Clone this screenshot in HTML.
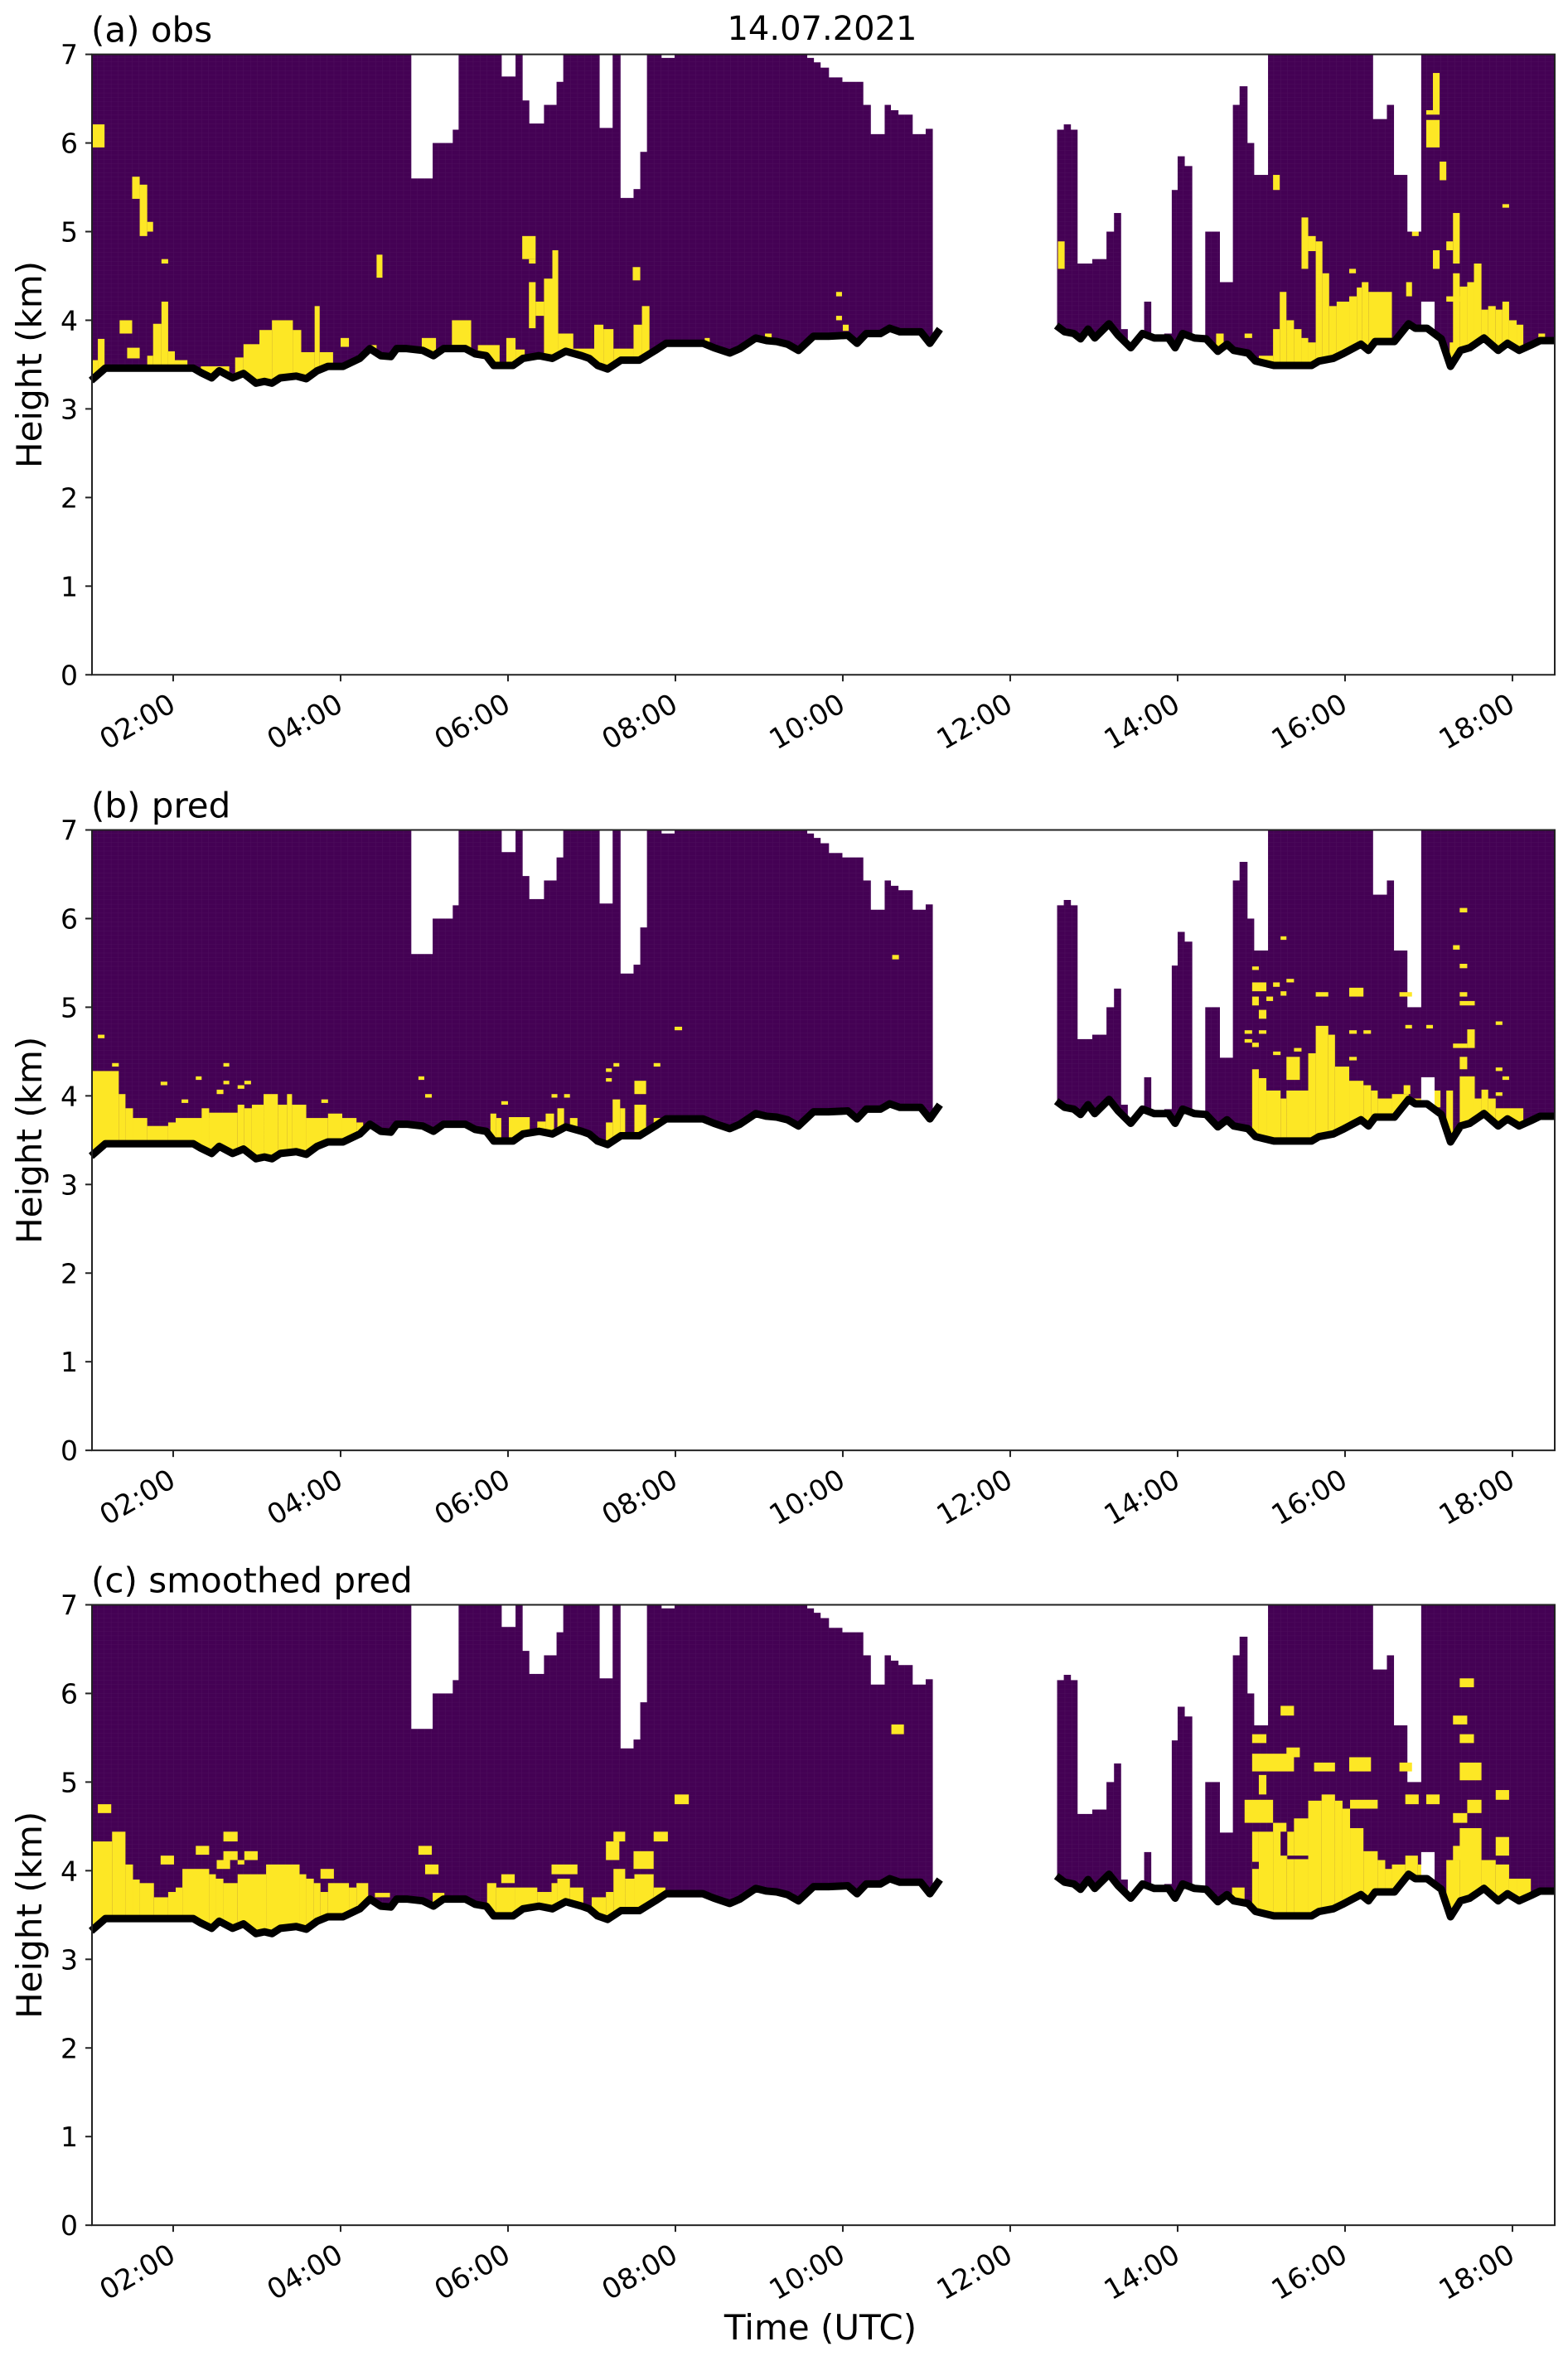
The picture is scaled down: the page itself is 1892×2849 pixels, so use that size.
<!DOCTYPE html>
<html><head><meta charset="utf-8"><style>
html,body{margin:0;padding:0;background:#fff;}
svg{display:block;}
text{font-family:"DejaVu Sans","Liberation Sans",sans-serif;fill:#000;}
</style></head><body>
<svg id="fig" width="1892" height="2849" viewBox="0 0 1892 2849" xmlns="http://www.w3.org/2000/svg">
<defs>
<pattern id="cellgrid" patternUnits="userSpaceOnUse" width="8.4" height="5.35">
<path d="M8.4 0V5.35M0 5.35H8.4" stroke="rgba(255,255,255,0.05)" stroke-width="1" fill="none"/>
</pattern>
</defs>
<text x="992" y="48" font-size="40" text-anchor="middle">14.07.2021</text>
<text x="990" y="2823" font-size="42" text-anchor="middle">Time (UTC)</text>
</svg>
<script>
// ---- data (hours UTC, km) ----
const panelTitles = ["(a) obs", "(b) pred", "(c) smoothed pred"];
const yTicks = [0,1,2,3,4,5,6,7];
const xTickHours = [2,4,6,8,10,12,14,16,18];
const xTickLabels = ["02:00","04:00","06:00","08:00","10:00","12:00","14:00","16:00","18:00"];
// cloud top segments [t0, t1, topKm]
const cloudTop = [[1.02,4.84,7],[4.84,5.10,5.60],[5.10,5.34,6.0],[5.34,5.41,6.15],[5.41,5.92,7],[5.92,6.09,6.75],[6.09,6.17,7],[6.17,6.25,6.48],[6.25,6.43,6.22],[6.43,6.58,6.43],[6.58,6.66,6.69],[6.66,7.09,7],[7.09,7.25,6.17],[7.25,7.34,7],[7.34,7.5,5.38],[7.5,7.58,5.48],[7.58,7.66,5.9],[7.66,7.83,7],[7.83,7.99,6.96],[7.99,9.57,7],[9.57,9.65,6.96],[9.65,9.73,6.91],[9.73,9.83,6.85],[9.83,9.99,6.74],[9.99,10.24,6.69],[10.24,10.33,6.43],[10.33,10.5,6.1],[10.5,10.57,6.43],[10.57,10.66,6.37],[10.66,10.83,6.32],[10.83,10.99,6.1],[10.99,11.07,6.16],
[12.56,12.64,6.15],[12.64,12.72,6.21],[12.72,12.8,6.15],[12.8,12.98,4.64],[12.98,13.15,4.69],[13.15,13.24,5.0],[13.24,13.32,5.21],[13.32,13.4,3.9],[13.6,13.68,4.21],[13.84,13.93,3.85],[13.93,14.0,5.47],[14.0,14.08,5.85],[14.08,14.17,5.74],[14.33,14.5,5.0],[14.5,14.66,4.43],[14.66,14.74,6.43],[14.74,14.83,6.64],[14.83,14.91,6.0],[14.91,15.08,5.64],[15.08,16.33,7],[16.33,16.5,6.27],[16.5,16.58,6.43],[16.58,16.74,5.64],[16.74,16.91,5.0],[16.91,18.55,7]];
// cloud base line, two segments [hour, km]
const baseSeg1 = [[1.02,3.32],[1.19,3.46],[2.24,3.46],[2.33,3.41],[2.46,3.35],[2.55,3.43],[2.71,3.35],[2.84,3.40],[2.99,3.29],[3.09,3.31],[3.18,3.29],[3.28,3.35],[3.47,3.37],[3.59,3.34],[3.72,3.43],[3.85,3.48],[4.03,3.48],[4.23,3.57],[4.35,3.68],[4.48,3.60],[4.60,3.59],[4.67,3.68],[4.79,3.68],[4.98,3.66],[5.11,3.60],[5.23,3.68],[5.49,3.68],[5.61,3.62],[5.74,3.60],[5.83,3.49],[6.06,3.49],[6.18,3.57],[6.37,3.60],[6.53,3.57],[6.69,3.65],[6.88,3.60],[6.97,3.57],[7.07,3.49],[7.19,3.45],[7.35,3.55],[7.57,3.55],[7.76,3.66],[7.89,3.74],[8.33,3.74],[8.46,3.69],[8.65,3.63],[8.77,3.68],[8.96,3.80],[9.09,3.77],[9.21,3.76],[9.34,3.73],[9.47,3.66],[9.65,3.82],[9.83,3.82],[10.06,3.83],[10.17,3.74],[10.28,3.85],[10.45,3.85],[10.56,3.91],[10.68,3.87],[10.93,3.87],[11.04,3.74],[11.16,3.90]];
const baseSeg2 = [[12.55,3.94],[12.65,3.87],[12.76,3.85],[12.84,3.79],[12.93,3.90],[13.01,3.80],[13.18,3.96],[13.29,3.83],[13.44,3.69],[13.58,3.85],[13.72,3.80],[13.89,3.80],[13.97,3.69],[14.06,3.85],[14.20,3.80],[14.34,3.79],[14.48,3.65],[14.59,3.73],[14.67,3.66],[14.84,3.63],[14.93,3.54],[15.15,3.49],[15.60,3.49],[15.69,3.54],[15.86,3.57],[15.97,3.62],[16.11,3.69],[16.19,3.73],[16.28,3.66],[16.36,3.76],[16.59,3.76],[16.76,3.96],[16.84,3.91],[16.98,3.91],[17.15,3.79],[17.26,3.48],[17.38,3.66],[17.49,3.69],[17.66,3.80],[17.83,3.66],[17.94,3.74],[18.08,3.66],[18.22,3.72],[18.33,3.77],[18.51,3.77]];
// data gaps inside cloud [t0,t1,lo,hi]
const cloudHoles = [[16.91,17.07,3.0,4.21]];
// yellow class rectangles [t0,t1,lo,hi]
const yellowObs = [[1.02,1.18,5.95,6.21],[1.10,1.18,3.0,3.79],[1.02,1.10,3.0,3.55],[1.51,1.60,5.37,5.62],[1.60,1.69,4.95,5.53],[1.69,1.76,5.0,5.11],[1.86,1.94,4.64,4.69],[1.36,1.51,3.85,4.0],[1.45,1.60,3.57,3.69],[1.69,1.76,3.0,3.6],[1.76,1.86,3.0,3.96],[1.86,1.94,3.0,4.21],[1.94,2.02,3.0,3.65],[2.02,2.17,3.0,3.55],[2.33,2.67,3.0,3.48],[2.74,2.84,3.0,3.58],[2.84,3.03,3.0,3.73],[3.03,3.18,3.0,3.89],[3.18,3.43,3.0,4.0],[3.43,3.53,3.0,3.89],[3.53,3.69,3.0,3.64],[3.69,3.75,3.0,4.16],[3.75,3.91,3.0,3.64],[4.0,4.1,3.7,3.8],[4.35,4.43,3.0,3.72],[4.43,4.50,4.48,4.74],[4.97,5.14,3.0,3.8],[5.33,5.56,3.0,4.0],[5.64,5.9,3.0,3.72],[5.98,6.09,3.0,3.8],[6.09,6.2,3.55,3.67],[6.17,6.33,4.69,4.95],[6.25,6.33,4.64,4.69],[6.25,6.33,3.91,4.43],[6.33,6.43,4.05,4.21],[6.43,6.53,3.0,4.47],[6.53,6.6,3.0,4.79],[6.6,6.78,3.0,3.85],[6.78,7.03,3.0,3.68],[7.03,7.14,3.0,3.95],[7.14,7.26,3.0,3.9],[7.26,7.5,3.0,3.68],[7.49,7.58,4.45,4.6],[7.5,7.6,3.0,3.95],[7.6,7.69,3.0,4.16],[8.35,8.41,3.7,3.8],[9.07,9.15,3.75,3.85],[9.92,9.99,4.27,4.32],[9.92,9.99,4.0,4.05],[10.0,10.07,3.88,3.95],[12.57,12.65,4.58,4.89],[14.46,14.55,3.0,3.85],[14.8,14.89,3.8,3.85],[14.97,15.14,3.0,3.6],[15.14,15.22,5.47,5.64],[15.14,15.22,3.0,3.9],[15.22,15.3,3.0,4.32],[15.3,15.39,3.0,4.0],[15.39,15.48,3.0,3.9],[15.48,15.56,3.0,3.8],[15.48,15.56,4.58,5.16],[15.56,15.65,4.78,4.95],[15.56,15.65,3.0,3.75],[15.65,15.73,3.0,4.89],[15.73,15.81,3.0,4.53],[15.81,15.9,3.0,4.16],[15.9,16.05,3.0,4.21],[16.05,16.13,4.53,4.58],[16.05,16.14,3.0,4.27],[16.14,16.2,3.0,4.37],[16.2,16.28,3.0,4.43],[16.28,16.56,3.0,4.32],[16.73,16.8,4.27,4.43],[16.8,16.88,4.95,5.0],[16.97,17.05,6.32,6.37],[17.05,17.13,6.32,6.79],[16.97,17.13,5.95,6.26],[17.13,17.21,5.58,5.79],[17.25,17.37,3.0,3.75],[17.05,17.13,4.58,4.79],[17.21,17.29,4.79,4.89],[17.29,17.37,4.64,5.21],[17.29,17.37,3.74,4.53],[17.21,17.37,4.21,4.27],[17.37,17.46,3.0,4.38],[17.46,17.54,3.0,4.43],[17.54,17.63,3.0,4.64],[17.63,17.71,3.0,4.12],[17.71,17.8,3.0,4.16],[17.8,17.88,3.0,4.12],[17.88,17.96,3.0,4.21],[17.88,17.96,5.27,5.31],[17.96,18.05,3.0,4.0],[18.05,18.13,3.0,3.95],[18.31,18.39,3.8,3.85]];
const yellowPred = [[1.02,1.35,3.0,4.28],[1.35,1.43,3.0,4.02],[1.43,1.52,3.0,3.86],[1.52,1.69,3.0,3.75],[1.69,1.94,3.0,3.66],[1.94,2.03,3.0,3.7],[2.03,2.43,3.0,3.75],[2.34,2.43,3.0,3.86],[2.43,2.77,3.0,3.81],[2.77,2.85,3.0,3.9],[2.85,2.94,3.0,3.86],[2.94,3.08,3.0,3.9],[3.08,3.25,3.0,4.02],[3.25,3.36,3.0,3.9],[3.36,3.42,3.0,4.02],[3.42,3.59,3.0,3.9],[3.59,3.85,3.0,3.75],[3.85,4.02,3.0,3.8],[4.02,4.19,3.0,3.75],[4.19,4.27,3.0,3.7],[1.1,1.18,4.65,4.69],[1.27,1.35,4.33,4.37],[2.6,2.67,4.33,4.37],[2.27,2.34,4.18,4.22],[2.6,2.67,4.13,4.17],[2.77,2.85,4.08,4.12],[2.85,2.93,4.13,4.17],[1.85,1.93,4.12,4.16],[2.52,2.6,4.02,4.07],[2.1,2.18,3.92,3.96],[3.77,3.85,3.92,3.96],[4.93,5.0,4.18,4.22],[5.01,5.09,3.98,4.02],[7.99,8.08,4.74,4.78],[5.79,5.86,3.0,3.8],[5.86,5.92,3.0,3.75],[5.92,6.0,3.9,3.94],[6.01,6.26,3.0,3.76],[6.35,6.45,3.0,3.71],[6.45,6.55,3.0,3.8],[6.52,6.59,3.98,4.02],[6.67,6.74,3.98,4.02],[6.59,6.67,3.0,3.86],[6.74,6.83,3.0,3.75],[7.17,7.25,3.0,3.7],[7.25,7.34,3.0,3.96],[7.34,7.4,3.0,3.86],[7.51,7.65,4.02,4.17],[7.51,7.65,3.0,3.9],[7.17,7.24,4.27,4.31],[7.17,7.24,4.16,4.2],[7.26,7.33,4.33,4.37],[7.74,7.82,4.33,4.37],[7.74,7.82,3.0,3.75],[10.59,10.67,5.54,5.59],[14.89,14.97,3.0,4.3],[14.97,15.06,3.0,4.2],[15.06,15.23,3.0,4.06],[15.23,15.3,3.0,3.97],[15.3,15.56,3.0,4.06],[15.3,15.46,4.18,4.44],[15.56,15.65,3.0,4.48],[15.65,15.8,3.0,4.79],[15.8,15.88,3.0,4.69],[15.88,16.05,3.0,4.33],[16.05,16.22,3.0,4.17],[16.22,16.31,3.0,4.12],[16.31,16.39,3.0,4.06],[16.39,16.56,3.0,3.97],[16.56,16.76,3.0,4.02],[16.7,16.78,4.02,4.12],[16.76,16.97,3.0,3.97],[17.04,17.14,3.87,4.06],[17.21,17.29,3.0,4.06],[17.37,17.55,3.0,4.22],[17.46,17.55,4.54,4.75],[17.29,17.46,4.54,4.59],[17.54,17.63,3.0,3.97],[17.63,17.71,3.0,4.07],[17.71,17.8,3.0,3.97],[17.8,18.13,3.0,3.86],[15.23,15.3,5.76,5.8],[14.89,14.97,5.42,5.46],[14.89,15.06,5.18,5.28],[15.14,15.22,5.23,5.28],[15.3,15.39,5.28,5.32],[15.23,15.3,5.13,5.18],[15.06,15.14,5.07,5.12],[14.89,14.97,5.02,5.12],[14.97,15.06,4.87,4.97],[14.8,14.89,4.7,4.74],[14.97,15.06,4.7,4.74],[14.8,14.89,4.6,4.64],[14.89,14.97,4.55,4.6],[15.65,15.8,5.12,5.17],[16.05,16.22,5.12,5.22],[16.65,16.8,5.12,5.17],[17.37,17.46,6.07,6.12],[17.29,17.37,5.65,5.7],[17.37,17.46,5.44,5.49],[17.37,17.46,5.12,5.17],[17.37,17.55,5.02,5.07],[17.8,17.88,4.8,4.84],[16.72,16.8,4.76,4.8],[16.97,17.05,4.76,4.8],[16.05,16.14,4.7,4.74],[16.22,16.31,4.7,4.74],[15.39,15.48,4.5,4.54],[15.14,15.23,4.46,4.5],[16.05,16.14,4.4,4.44],[17.8,17.88,4.28,4.32],[17.88,17.96,4.18,4.22],[17.8,17.88,4.0,4.04],[17.37,17.46,4.3,4.44]];
const yellowSmooth = [[1.02,1.27,3.0,4.33],[1.27,1.43,3.0,4.44],[1.43,1.52,3.0,4.07],[1.52,1.6,3.0,3.9],[1.6,1.77,3.0,3.86],[1.77,1.94,3.0,3.7],[1.94,2.03,3.0,3.76],[2.03,2.11,3.0,3.81],[2.11,2.43,3.0,4.02],[2.43,2.51,3.0,3.96],[2.51,2.6,3.0,3.91],[2.6,2.77,3.0,3.86],[2.77,3.11,3.0,3.96],[3.11,3.51,3.0,4.07],[3.51,3.59,3.0,3.96],[3.59,3.68,3.0,3.91],[3.68,3.76,3.0,3.86],[3.76,3.85,3.0,3.76],[3.76,3.92,3.91,4.02],[3.85,4.1,3.0,3.86],[4.1,4.19,3.0,3.81],[4.19,4.33,3.0,3.86],[1.1,1.26,4.65,4.75],[1.85,2.01,4.07,4.17],[2.27,2.43,4.18,4.28],[2.6,2.77,4.33,4.44],[2.6,2.77,4.12,4.22],[2.85,3.01,4.12,4.22],[2.52,2.68,4.02,4.12],[2.77,2.85,4.07,4.12],[4.41,4.59,3.7,3.75],[5.1,5.24,3.0,3.75],[4.93,5.09,4.18,4.28],[5.01,5.17,3.96,4.07],[7.99,8.16,4.75,4.86],[5.75,5.86,3.0,3.86],[5.86,6.08,3.0,3.81],[5.92,6.08,3.86,3.96],[6.08,6.35,3.0,3.81],[6.35,6.52,3.0,3.76],[6.52,6.59,3.0,3.86],[6.59,6.74,3.0,3.91],[6.74,6.9,3.0,3.81],[6.52,6.83,3.96,4.07],[7.0,7.17,3.0,3.7],[7.17,7.26,3.0,3.76],[7.26,7.4,3.0,4.02],[7.4,7.51,3.0,3.91],[7.51,7.74,3.0,3.96],[7.74,7.88,3.0,3.81],[7.17,7.33,4.12,4.33],[7.26,7.4,4.33,4.44],[7.5,7.74,4.02,4.22],[7.74,7.91,4.33,4.44],[10.58,10.73,5.54,5.65],[14.65,14.8,3.0,3.81],[14.89,14.97,3.0,4.44],[14.97,15.14,3.0,4.44],[15.14,15.3,3.0,4.54],[15.3,15.39,3.0,4.44],[15.39,15.56,3.0,4.59],[15.56,15.72,3.0,4.79],[15.72,15.88,3.0,4.86],[15.88,15.97,3.0,4.79],[15.97,16.06,3.0,4.7],[16.06,16.22,3.0,4.48],[16.06,16.39,4.7,4.8],[16.22,16.39,3.0,4.22],[16.39,16.48,3.0,4.12],[16.48,16.56,3.0,4.02],[16.56,16.72,3.0,4.07],[16.72,16.87,3.0,4.17],[16.87,16.97,3.0,4.07],[17.21,17.37,3.0,4.12],[17.29,17.46,4.12,4.28],[17.37,17.63,3.0,4.48],[17.63,17.8,3.0,4.12],[17.8,17.96,3.0,4.07],[17.96,18.05,3.0,3.91],[18.05,18.22,3.0,3.91],[17.8,17.96,4.17,4.38],[17.29,17.46,4.54,4.65],[17.46,17.63,4.65,4.8],[15.23,15.39,5.75,5.86],[14.89,15.06,5.44,5.54],[15.3,15.46,5.28,5.39],[14.89,15.39,5.12,5.32],[14.97,15.06,4.86,5.08],[14.8,15.14,4.54,4.8],[15.63,15.88,5.12,5.22],[16.05,16.31,5.12,5.28],[16.65,16.8,5.12,5.22],[16.72,16.88,4.75,4.86],[16.97,17.13,4.75,4.86],[17.37,17.54,6.07,6.17],[17.29,17.46,5.65,5.75],[17.37,17.54,5.44,5.54],[17.37,17.63,5.02,5.22],[17.8,17.96,4.8,4.91]];
// purple gaps inside yellow blobs, smoothed panel [t0,t1,lo,hi]
const purpleHolesSmooth = [[15.23,15.31,4.17,4.44],[15.31,15.56,4.13,4.17],[14.89,14.97,4.02,4.1]];
const panelYellow = [yellowObs, yellowPred, yellowSmooth];
const panelPurpleHoles = [[], [], purpleHolesSmooth];

// ---- layout ----
const NS = "http://www.w3.org/2000/svg";
const svg = document.getElementById("fig");
const axLeft = 111, axRight = 1876, pxPerHour = 101, hour0 = 1.03;
const panelTops = [65.6, 1001.5, 1936.5];
const pxPerKm = 106.95;
const PURPLE = "#440154", YELLOW = "#fde725";
function xScale(h){ return axLeft + (h - hour0) * pxPerHour; }
function mk(tag, attrs){ const e = document.createElementNS(NS, tag); for (const k in attrs) e.setAttribute(k, attrs[k]); return e; }

panelTops.forEach((top, pi) => {
  const bottom = top + 7 * pxPerKm;
  const yScale = km => bottom - km * pxPerKm;
  const g = mk("g", {});
  
  
  svg.appendChild(g);
  const clipId = "clip" + pi;
  const cp = mk("clipPath", {id: clipId});
  cp.appendChild(mk("rect", {x: axLeft, y: top, width: axRight - axLeft, height: bottom - top}));
  g.appendChild(cp);
  const plot = mk("g", {"clip-path": "url(#" + clipId + ")"});
  
  
  g.appendChild(plot);

  cloudTop.forEach(s => {
    const r = mk("rect", {x: xScale(s[0]), y: yScale(s[2]), width: xScale(s[1]) - xScale(s[0]) + 0.5, height: yScale(3.0) - yScale(s[2]), fill: PURPLE});
    
    
    plot.appendChild(r);
  });
  cloudTop.forEach(s => {
    const r = mk("rect", {x: xScale(s[0]), y: yScale(s[2]), width: xScale(s[1]) - xScale(s[0]), height: yScale(3.0) - yScale(s[2]), fill: "url(#cellgrid)"});
    
    
    plot.appendChild(r);
  });
  panelYellow[pi].forEach(c => {
    const r = mk("rect", {x: xScale(c[0]), y: yScale(c[3]), width: xScale(c[1]) - xScale(c[0]), height: yScale(c[2]) - yScale(c[3]), fill: YELLOW});
    
    
    plot.appendChild(r);
  });
  panelPurpleHoles[pi].forEach(c => {
    const r = mk("rect", {x: xScale(c[0]), y: yScale(c[3]), width: xScale(c[1]) - xScale(c[0]), height: yScale(c[2]) - yScale(c[3]), fill: PURPLE});
    
    
    plot.appendChild(r);
  });
  cloudHoles.forEach(c => {
    const r = mk("rect", {x: xScale(c[0]), y: yScale(c[3]), width: xScale(c[1]) - xScale(c[0]), height: yScale(c[2]) - yScale(c[3]), fill: "#fff"});
    
    
    plot.appendChild(r);
  });
  [baseSeg1, baseSeg2].forEach(seg => {
    let d = "M" + (xScale(seg[0][0]) - 2) + "," + yScale(0);
    d += " L" + (xScale(seg[0][0]) - 2) + "," + yScale(seg[0][1]);
    seg.forEach(p => { d += " L" + xScale(p[0]) + "," + yScale(p[1]); });
    d += " L" + xScale(seg[seg.length-1][0]) + "," + yScale(0) + " Z";
    const w = mk("path", {d: d, fill: "#fff"});
    
    
    plot.appendChild(w);
  });
  [baseSeg1, baseSeg2].forEach(seg => {
    const pts = seg.map(p => xScale(p[0]) + "," + yScale(p[1])).join(" ");
    const l = mk("polyline", {points: pts, fill: "none", stroke: "#000", "stroke-width": 9, "stroke-linejoin": "round", "stroke-linecap": "butt"});
    
    
    g.appendChild(l);
  });
  const f = mk("rect", {x: axLeft, y: top, width: axRight - axLeft, height: bottom - top, fill: "none", stroke: "#222", "stroke-width": 2});
  
  
  g.appendChild(f);
  yTicks.forEach(v => {
    const y = yScale(v);
    const t = mk("line", {x1: axLeft - 8, x2: axLeft, y1: y, y2: y, stroke: "#222", "stroke-width": 2});
    
    
    g.appendChild(t);
    const tx = mk("text", {x: 94, y: y + 12, "font-size": 33, "text-anchor": "end"});
    tx.textContent = v;
    
    
    g.appendChild(tx);
  });
  xTickHours.forEach((h, i) => {
    const x = xScale(h);
    const t = mk("line", {x1: x, x2: x, y1: bottom, y2: bottom + 8, stroke: "#222", "stroke-width": 2});
    
    
    g.appendChild(t);
    const tx = mk("text", {x: 0, y: 0, "font-size": 34, "text-anchor": "end", transform: "translate(" + (x + 5) + "," + (bottom + 42) + ") rotate(-30)"});
    tx.textContent = xTickLabels[i];
    
    
    g.appendChild(tx);
  });
  const tt = mk("text", {x: 110, y: top - 15, "font-size": 42});
  tt.textContent = panelTitles[pi];
  
  
  g.appendChild(tt);
  const yl = mk("text", {x: 0, y: 0, "font-size": 42, "text-anchor": "middle", transform: "translate(50," + ((top + bottom) / 2) + ") rotate(-90)"});
  yl.textContent = "Height (km)";
  
  
  g.appendChild(yl);
});
</script>
</body></html>
